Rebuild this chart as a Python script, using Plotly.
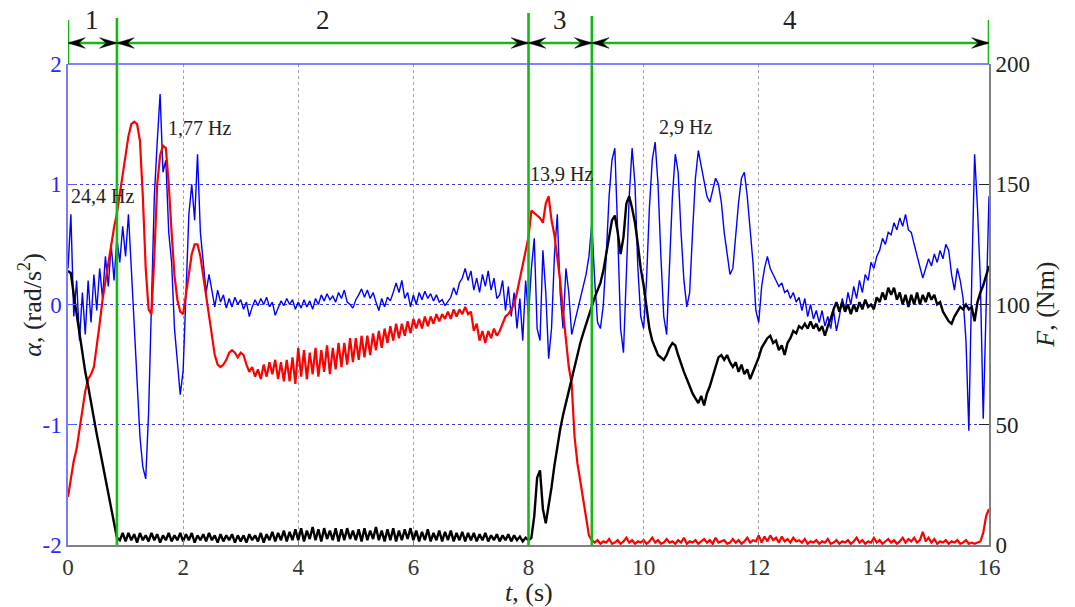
import plotly.graph_objects as go

# ---------------- data ----------------
SAMPLE_STEP = 0.05  # s, sampling grid of the recorded signals
t = [round(i * SAMPLE_STEP, 2) for i in range(321)]

# angular acceleration alpha (rad/s^2), left axis
alpha = [
    0.30, 0.75, -0.10, 0.20, -0.30, 0.10, -0.25, 0.20, -0.15, 0.25, -0.05, 0.30, 0.05, 0.40, 0.15, 0.50, 0.20, 0.55, 0.35, 0.65,
    0.40, 0.75, 0.30, -0.20, -0.70, -1.10, -1.35, -1.45, -0.90, 0.10, 0.90, 1.35, 1.75, 1.10, 1.20, 0.60, 0.35, -0.20, -0.45, -0.75,
    -0.55, 0.10, 0.75, 1.00, 0.70, 1.25, 0.60, 0.35, 0.10, 0.25, 0.10, -0.02, 0.12, 0.02, 0.08, -0.03, 0.05, -0.02, 0.06, 0.00,
    0.04, -0.04, 0.02, -0.10, -0.02, 0.04, -0.01, 0.05, 0.00, 0.06, -0.02, 0.02, -0.09, -0.03, 0.03, -0.01, 0.05, 0.00, 0.04, -0.04,
    0.02, -0.03, 0.04, -0.02, 0.03, -0.04, 0.05, 0.00, 0.08, 0.03, 0.09, 0.04, 0.07, 0.02, 0.10, 0.05, 0.12, 0.02, 0.00, -0.03,
    0.04, 0.08, 0.13, 0.06, 0.12, 0.05, 0.10, 0.02, -0.05, 0.05, -0.02, 0.06, 0.03, 0.10, 0.18, 0.10, 0.20, 0.05, 0.10, -0.02,
    0.08, 0.00, 0.10, 0.04, 0.11, 0.05, 0.09, 0.03, 0.08, 0.02, 0.04, -0.01, 0.03, 0.06, 0.14, 0.08, 0.18, 0.22, 0.30, 0.20,
    0.28, 0.12, 0.22, 0.10, 0.25, 0.15, 0.28, 0.12, 0.22, 0.05, 0.08, 0.20, -0.05, 0.15, -0.10, 0.10, -0.20, 0.05, -0.30, 0.20,
    -0.10, 0.30, 0.55, -0.20, -0.30, 0.45, 0.10, -0.45, -0.20, 0.40, 0.75, 0.10, -0.20, 0.30, 0.10, -0.25, -0.15, -0.05, 0.05, 0.15,
    0.25, 0.40, 0.68, 0.20, -0.15, -0.20, 0.00, 0.40, 0.90, 1.20, 1.30, 0.60, -0.20, -0.40, 0.20, 0.90, 1.30, 1.00, 0.30, -0.10,
    -0.20, 0.20, 0.80, 1.20, 1.35, 1.00, 0.40, -0.10, -0.25, 0.30, 0.90, 1.25, 1.10, 0.60, 0.20, -0.02, 0.10, 0.60, 1.05, 1.28,
    1.15, 1.00, 0.90, 0.85, 0.95, 1.05, 1.00, 0.85, 0.60, 0.40, 0.25, 0.30, 0.60, 0.85, 1.05, 1.10, 0.90, 0.60, 0.35, -0.05,
    -0.15, 0.15, 0.30, 0.40, 0.30, 0.25, 0.20, 0.15, 0.18, 0.10, 0.12, 0.05, 0.10, 0.02, 0.06, -0.05, 0.05, -0.10, 0.00, -0.12,
    -0.05, -0.15, -0.05, -0.18, -0.10, -0.20, -0.05, -0.22, -0.10, 0.05, -0.05, 0.10, 0.00, 0.15, 0.05, 0.20, 0.10, 0.25, 0.20, 0.35,
    0.30, 0.40, 0.45, 0.55, 0.50, 0.60, 0.58, 0.68, 0.62, 0.72, 0.65, 0.75, 0.62, 0.60, 0.50, 0.40, 0.30, 0.22, 0.30, 0.38,
    0.32, 0.42, 0.35, 0.45, 0.38, 0.50, 0.45, 0.25, 0.12, 0.30, 0.20, 0.05, -0.30, -1.05, 0.20, 1.25, 0.80, 0.20, -0.95, 0.10,
    0.90,
]

# force F (Nm), right axis - red signal
force_red = [
    20, 28, 35, 40, 48, 56, 64, 69, 71, 74, 82, 92, 102, 110, 116, 124, 132, 138, 146, 155,
    162, 170, 175, 176, 175, 168, 145, 115, 98, 96, 120, 150, 162, 166, 165, 150, 130, 112, 102, 97,
    96, 104, 114, 121, 125, 125, 120, 112, 104, 95, 86, 79, 75, 74, 75, 77, 80, 81, 80, 78,
    80, 79, 75, 72, 74, 70, 73, 69, 75, 70, 76, 71, 77, 69, 76, 68, 77, 68, 78, 67,
    82, 70, 81, 69, 80, 71, 82, 70, 81, 72, 83, 71, 82, 73, 84, 74, 84, 75, 86, 76,
    86, 77, 87, 78, 87, 79, 88, 81, 89, 82, 90, 84, 91, 85, 92, 86, 92, 87, 93, 88,
    94, 90, 94, 90, 95, 91, 95, 92, 96, 93, 96, 94, 97, 94, 98, 95, 98, 96, 99, 96,
    97, 89, 92, 85, 89, 84, 89, 86, 90, 87, 89, 92, 95, 96, 98, 100, 105, 111, 116, 122,
    128, 139, 138, 137, 136, 134, 142, 145, 135, 129, 120, 110, 97, 86, 74, 67, 45, 34, 26, 18,
    10, 4, 2, 1, 2, 0.5, 1.5, 1, 2.5, 0.5, 1, 2, 0.5, 1.5, 3, 1, 2, 0.5, 1.5, 1,
    2, 0.5, 1.5, 3, 1, 2, 0.5, 1, 2.5, 1, 1.5, 0.5, 2, 1, 3, 0.5, 1.5, 1, 2, 0.5,
    1.5, 2.5, 1, 2, 0.5, 3, 1, 1.5, 2, 0.5, 1, 2.5, 1, 2, 0.5, 1.5, 3, 1, 2, 1.5,
    4, 1, 3.5, 1.5, 4, 2, 3, 1, 3.5, 1.5, 2.5, 1, 3, 1.5, 2, 1, 2.5, 0.5, 1.5, 1,
    2, 0.5, 1.5, 1, 2.5, 0.5, 1, 2, 0.5, 1.5, 1, 2, 0.5, 1.5, 3, 1, 2, 0.5, 1.5, 1,
    3, 1, 2, 0.5, 1.5, 2.5, 1, 2, 0.5, 1.5, 3, 1, 2.5, 1.5, 3, 1, 2, 5.5, 1.5, 3,
    1, 2.5, 0.5, 1.5, 1, 2, 0.5, 1.5, 1, 2, 0.5, 1, 2, 0.5, 1, 0.5, 1, 1.5, 5, 12,
    15,
]

# force F (Nm), right axis - black signal
force_black = [
    114, 113, 104, 96, 88, 79, 72, 66, 59, 53, 46, 40, 34, 28, 22, 16, 10, 3, 2, 5,
    1.5, 5, 2, 4.5, 1, 5, 2, 4, 1.5, 5, 2, 4.5, 1, 4, 2, 5, 1.5, 4, 2, 5,
    1.5, 4.5, 2, 5, 1, 4, 2, 4.5, 1.5, 5, 2, 4, 1, 4.5, 1.5, 4, 2, 4.5, 1, 4,
    1.5, 4, 1, 4.5, 2, 4, 1.5, 5, 1, 4.5, 2, 5.5, 1.5, 5, 2, 6, 1.5, 5.5, 2, 6.5,
    2, 7, 1.5, 6, 2.5, 7.5, 2, 6.5, 1.5, 7, 2.5, 6, 2, 7, 1.5, 6.5, 2, 7, 2.5, 6,
    2, 6.5, 1.5, 7, 2, 6, 2.5, 7.5, 2, 6, 1.5, 6.5, 2, 7, 1.5, 6, 2, 6.5, 2.5, 7,
    2, 6, 1.5, 5.5, 2, 6.5, 1.5, 5, 2, 6, 1.5, 5.5, 2, 6, 1.5, 5, 2, 5.5, 1.5, 5,
    2, 5, 1.5, 4.5, 2, 5, 1.5, 4, 2, 4.5, 1.5, 4, 2, 4.5, 1.5, 4, 2, 3.5, 1.5, 3,
    2, 3, 12, 28, 31, 15, 9, 16, 24, 33, 41, 48, 54, 59, 64, 69, 75, 80, 84, 88,
    92, 96, 99, 103, 106, 109, 114, 121, 128, 135, 137, 130, 121, 128, 142, 145, 140, 134, 125, 115,
    108, 98, 90, 85, 82, 79, 78, 77, 79, 82, 84, 83, 79, 75, 72, 69, 66, 63, 61, 59,
    62, 58, 63, 66, 70, 74, 78, 79, 77, 79, 76, 74, 76, 72, 75, 71, 73, 69, 72, 75,
    78, 82, 84, 86, 87, 84, 85, 81, 83, 79, 84, 86, 89, 88, 91, 90, 92, 90, 93, 90,
    92, 89, 91, 87, 91, 94, 98, 101, 97, 101, 97, 100, 96, 100, 97, 101, 98, 102, 99, 100,
    98, 103, 101, 105, 102, 107, 104, 107, 102, 105, 100, 104, 99, 104, 100, 105, 100, 104, 101, 105,
    102, 104, 100, 101, 97, 95, 93, 92, 95, 97, 99, 98, 100, 98, 99, 93, 101, 105, 108, 112,
    116,
]

x_ticks = [0, 2, 4, 6, 8, 10, 12, 14, 16]
alpha_ticks = [-2, -1, 0, 1, 2]
alpha_ticktext = ["-2", "-1", "0", "1", "2"]
force_ticks = [0, 50, 100, 150, 200]

phase_bounds = [0, 0.85, 8.0, 9.1, 16]
phase_labels = ["1", "2", "3", "4"]

freq_labels = ["24,4 Hz", "1,77 Hz", "13,9 Hz", "2,9 Hz"]
freq_t = [0.02, 1.70, 7.99, 10.23]
freq_alpha = [0.90, 1.47, 1.085, 1.48]

x_title = "<i>t</i>, (s)"
alpha_title = "<i>α</i>, (rad/s<sup>2</sup>)"
force_title = "<i>F</i>, (Nm)"

# ---------------- figure ----------------
SERIF = "Liberation Serif, Times New Roman, DejaVu Serif, serif"
GREEN = "rgb(20,185,20)"

fig = go.Figure()
fig.add_trace(go.Scatter(x=t, y=alpha, mode="lines", yaxis="y",
                         line=dict(color="rgb(0,0,255)", width=1.4), hoverinfo="skip"))
fig.add_trace(go.Scatter(x=t, y=force_red, mode="lines", yaxis="y2",
                         line=dict(color="rgb(255,0,0)", width=2.2), hoverinfo="skip"))
fig.add_trace(go.Scatter(x=t, y=force_black, mode="lines", yaxis="y2",
                         line=dict(color="black", width=2.4), hoverinfo="skip"))

shapes = []
ann = []
ARROW_Y = 1.0437
LABEL_Y = 1.0915
top_ext = {0: 1.0915, 1: 1.0957, 2: 1.106, 3: 1.10, 4: 1.0915}
for i, b in enumerate(phase_bounds):
    y0 = 1.0 if i in (0, len(phase_bounds) - 1) else 0.0
    shapes.append(dict(type="line", xref="x", yref="paper", x0=b, x1=b, y0=y0, y1=top_ext[i],
                       line=dict(color=GREEN, width=2.6), layer="above"))
shapes.append(dict(type="line", xref="x", yref="paper", x0=phase_bounds[0], x1=phase_bounds[-1],
                   y0=ARROW_Y, y1=ARROW_Y, line=dict(color=GREEN, width=2.6), layer="above"))
# top border (blue)
shapes.append(dict(type="line", xref="paper", yref="paper", x0=0, x1=1, y0=1, y1=1,
                   line=dict(color="#5a5aff", width=1.5), layer="above"))

L, H = 0.30, 0.011
def head(xt, direction):
    d = direction
    return (f"M {xt},{ARROW_Y} L {xt - d*L},{ARROW_Y + H} L {xt - d*0.62*L},{ARROW_Y} "
            f"L {xt - d*L},{ARROW_Y - H} Z")

for a, b, lab in zip(phase_bounds[:-1], phase_bounds[1:], phase_labels):
    shapes.append(dict(type="path", xref="x", yref="paper", path=head(a, -1),
                       fillcolor="black", line=dict(color="black", width=0.5), layer="above"))
    shapes.append(dict(type="path", xref="x", yref="paper", path=head(b, 1),
                       fillcolor="black", line=dict(color="black", width=0.5), layer="above"))
    ann.append(dict(x=(a + b) / 2, y=LABEL_Y, xref="x", yref="paper", text=lab, showarrow=False,
                    font=dict(family=SERIF, size=27, color="#222"), xanchor="center", yanchor="middle"))

for txt, xx, yy in zip(freq_labels, freq_t, freq_alpha):
    ann.append(dict(x=xx, y=yy, xref="x", yref="y", text=txt, showarrow=False,
                    font=dict(family=SERIF, size=20, color="#222"), xanchor="left", yanchor="middle"))

TITLE_FONT = dict(family=SERIF, size=26, color="#222")
ann.append(dict(x=0.5, y=-0.099, xref="paper", yref="paper", text=x_title, showarrow=False,
                font=TITLE_FONT, xanchor="center", yanchor="middle"))
ann.append(dict(x=-0.041, y=0.5, xref="paper", yref="paper", text=alpha_title, showarrow=False,
                font=TITLE_FONT, xanchor="center", yanchor="middle", textangle=-90))
ann.append(dict(x=1.061, y=0.5, xref="paper", yref="paper", text=force_title, showarrow=False,
                font=TITLE_FONT, xanchor="center", yanchor="middle", textangle=-90))

fig.update_layout(
    width=1075, height=607,
    margin=dict(l=68, r=86, t=64, b=62),
    paper_bgcolor="white", plot_bgcolor="white",
    showlegend=False,
    font=dict(family=SERIF, size=23, color="#333"),
    shapes=shapes, annotations=ann,
    xaxis=dict(range=[0, 16], tickvals=x_ticks, showgrid=True, gridcolor="#a0a0a0", griddash="dot",
               gridwidth=1, zeroline=False, showline=True, linecolor="#808080", linewidth=2,
               ticks="inside", ticklen=5, tickcolor="#808080", automargin=False,
               tickfont=dict(family=SERIF, size=23, color="#333")),
    xaxis2=dict(range=[0, 16], tickvals=x_ticks, overlaying="x", side="top", showgrid=False,
                zeroline=False, showline=False, ticks="inside", ticklen=8, tickcolor="#5a5aff",
                showticklabels=False, automargin=False),
    yaxis=dict(range=[-2, 2], tickvals=alpha_ticks, ticktext=alpha_ticktext, showgrid=True,
               gridcolor="#3a3ae0", griddash="dot",
               gridwidth=1, zeroline=False, showline=True, linecolor="#7a7aff", linewidth=1.5,
               ticks="inside", ticklen=8, tickcolor="#5a5aff", automargin=False,
               tickfont=dict(family=SERIF, size=23, color="#2a2aff")),
    yaxis2=dict(range=[0, 200], tickvals=force_ticks, overlaying="y", side="right", showgrid=False,
                zeroline=False, showline=True, linecolor="#808080", linewidth=2,
                ticks="inside", ticklen=10, tickcolor="#222", automargin=False,
                tickfont=dict(family=SERIF, size=23, color="#222")),
)

fig.write_html("out.html", config={"displayModeBar": False},
               post_script="document.body.style.margin='0px';document.body.style.overflow='hidden';")
